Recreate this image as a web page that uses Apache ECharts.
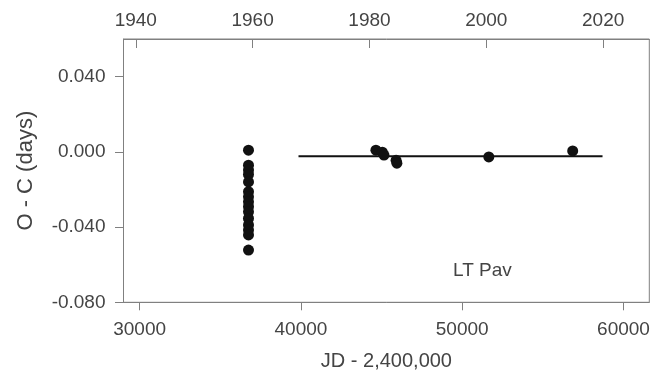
<!DOCTYPE html>
<html>
<head>
<meta charset="utf-8">
<script src="https://cdn.jsdelivr.net/npm/echarts@6/dist/echarts.min.js"></script>
<style>
  html, body { margin: 0; padding: 0; background: #fff; }
  #chart { width: 659px; height: 377px; }
</style>
</head>
<body>
<div id="chart"></div>
<script>
// O-C measurements, JD - 2,400,000 vs days
var jdValues = [36750, 36750, 36750, 36750, 36750, 36750, 36750, 36750, 36750, 36750,
                36750, 36750, 36750, 36750, 36750,
                44650, 45050, 45150, 45900, 45950, 51650, 56850];
var ocValues = [0.0009, -0.0071, -0.0097, -0.0120, -0.0160, -0.0212, -0.0239, -0.0266, -0.0292, -0.0319,
                -0.0354, -0.0389, -0.0416, -0.0442, -0.0522,
                0.0009, -0.0002, -0.0017, -0.0045, -0.0060, -0.0027, 0.0005];

// linear fit
var fitJd = [39850, 58700];
var fitOc = [-0.0023, -0.0023];

var jdTicks = [30000, 40000, 50000, 60000];
var yearTicks = [1940, 1960, 1980, 2000, 2020];
var ocTicks = [-0.08, -0.04, 0, 0.04];

var font = 'Liberation Sans, Arial, sans-serif';
var axisGrey = '#808080';
var textGrey = '#444';

var points = jdValues.map(function (jd, i) { return [jd, ocValues[i]]; });
var fitLine = fitJd.map(function (jd, i) { return [jd, fitOc[i]]; });

var chart = echarts.init(document.getElementById('chart'));
chart.setOption({
    animation: false,
    grid: {
        left: 123.5, right: 9.7, top: 39, bottom: 74.7,
        show: true, borderColor: axisGrey, borderWidth: 1
    },
    xAxis: [{
        type: 'value', min: 29000, max: 61600, position: 'bottom',
        name: 'JD - 2,400,000', nameLocation: 'middle', nameGap: 49,
        nameTextStyle: { fontFamily: font, fontSize: 20, color: textGrey },
        axisLine: { show: true, onZero: false, lineStyle: { color: axisGrey } },
        axisTick: { show: true, inside: false, length: 8, customValues: jdTicks, lineStyle: { color: axisGrey } },
        axisLabel: {
            customValues: jdTicks, margin: 18, fontFamily: font, fontSize: 19, color: textGrey,
            formatter: function (v) { return String(v); }
        },
        splitLine: { show: false }
    }, {
        type: 'value', min: 1937.9, max: 2027.9, position: 'top',
        axisLine: { show: true, onZero: false, lineStyle: { color: axisGrey } },
        axisTick: { show: true, inside: true, length: 9, customValues: yearTicks, lineStyle: { color: axisGrey } },
        axisLabel: {
            customValues: yearTicks, margin: 9, fontFamily: font, fontSize: 19, color: textGrey,
            formatter: function (v) { return String(v); }
        },
        splitLine: { show: false }
    }],
    yAxis: {
        type: 'value', min: -0.08, max: 0.06,
        name: 'O - C (days)', nameLocation: 'middle', nameGap: 87, nameRotate: 90,
        nameTextStyle: { fontFamily: font, fontSize: 22, color: textGrey },
        axisLine: { show: true, onZero: false, lineStyle: { color: axisGrey } },
        axisTick: { show: true, inside: false, length: 8.5, customValues: ocTicks, lineStyle: { color: axisGrey } },
        axisLabel: {
            customValues: ocTicks, margin: 18, fontFamily: font, fontSize: 19, color: textGrey,
            formatter: function (v) { return v.toFixed(3); }
        },
        splitLine: { show: false }
    },
    graphic: [{
        type: 'text', left: 453, top: 261,
        style: { text: 'LT Pav', font: '19px ' + font, fill: textGrey }
    }],
    series: [{
        type: 'line', data: fitLine, xAxisIndex: 0, symbol: 'none',
        lineStyle: { color: '#111', width: 2 }, z: 2
    }, {
        type: 'scatter', data: points, xAxisIndex: 0,
        symbol: 'circle', symbolSize: 11,
        itemStyle: { color: '#111', opacity: 1 }, z: 3
    }]
});
</script>
</body>
</html>
